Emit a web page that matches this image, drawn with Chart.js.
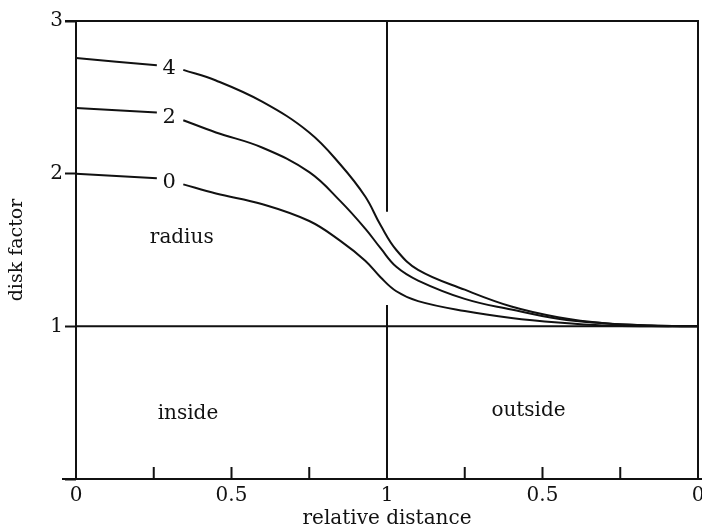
<!DOCTYPE html>
<html lang="en">
  <head>
    <meta charset="UTF-8" />
    <title>Disk factor</title>
    <script src="https://cdn.jsdelivr.net/npm/chart.js@4"></script>
    <style>
      html, body { margin: 0; padding: 0; background: #fff; }
      #wrap { width: 702px; height: 531px; }
    </style>
  </head>
  <body>
    <div id="wrap"><canvas id="diskChart"></canvas></div>
  </body>
  <script>
    // relative distance: 0..1 inside, 1..2 outside (axis reads 0 .. 1 .. 0)
    const distance = [0, 0.26, 0.30, 0.345, 0.45, 0.6, 0.75, 0.85, 0.93, 0.98, 1.03, 1.1, 1.25, 1.4, 1.55, 1.7, 1.85, 2.0];
    // null at 0.30 leaves room for the curve label
    const curve4 = [2.757, 2.71, null, 2.68, 2.61, 2.47, 2.27, 2.06, 1.85, 1.66, 1.50, 1.37, 1.24, 1.13, 1.06, 1.02, 1.005, 1.0];
    const curve2 = [2.43, 2.40, null, 2.35, 2.27, 2.17, 2.01, 1.82, 1.64, 1.51, 1.39, 1.30, 1.18, 1.11, 1.05, 1.02, 1.005, 1.0];
    const curve0 = [2.0, 1.97, null, 1.93, 1.87, 1.80, 1.69, 1.56, 1.43, 1.32, 1.23, 1.165, 1.10, 1.055, 1.025, 1.005, 1.0, 1.0];
    const curveLabels = ["4", "2", "0"];
    const dividerGap = [1.14, 1.75]; // the x=1 line is broken between these y values

    const INK = "#111";
    const FONT = "'DejaVu Serif', serif";

    function pts(ys) {
      return distance.map((x, i) => ({x: x, y: ys[i]}));
    }

    const frame = {
      id: "frame",
      afterDatasetsDraw(chart) {
        const {ctx, chartArea: a, scales: {x, y}} = chart;
        ctx.save();
        ctx.strokeStyle = INK;
        ctx.lineWidth = 2;
        ctx.beginPath();
        // box
        ctx.moveTo(a.left, a.bottom); ctx.lineTo(a.left, a.top);
        ctx.moveTo(a.left - 11, a.top); ctx.lineTo(a.right, a.top);
        ctx.lineTo(a.right, a.bottom);
        ctx.moveTo(a.left - 14, a.bottom); ctx.lineTo(chart.width, a.bottom);
        // y = 1 line
        ctx.moveTo(a.left, y.getPixelForValue(1)); ctx.lineTo(a.right, y.getPixelForValue(1));
        // x = 1 divider, broken where the curves pass
        const xm = x.getPixelForValue(1);
        ctx.moveTo(xm, a.top); ctx.lineTo(xm, y.getPixelForValue(dividerGap[1]));
        ctx.moveTo(xm, y.getPixelForValue(dividerGap[0])); ctx.lineTo(xm, a.bottom);
        // inward ticks on the x axis
        for (let v = 0.25; v < 2; v += 0.25) {
          if (v === 1) continue;
          const px = x.getPixelForValue(v);
          ctx.moveTo(px, a.bottom); ctx.lineTo(px, a.bottom - 12);
        }
        ctx.stroke();

        ctx.fillStyle = INK;
        ctx.font = "21px " + FONT;
        ctx.textAlign = "center";
        ctx.textBaseline = "middle";
        chart.data.datasets.forEach((ds, i) => {
          const gi = ds.data.findIndex(p => p.y === null);
          const yv = (ds.data[gi - 1].y + ds.data[gi + 1].y) / 2;
          ctx.fillText(curveLabels[i], x.getPixelForValue(ds.data[gi].x), y.getPixelForValue(yv) + 1);
        });
        ctx.font = "20px " + FONT;
        ctx.fillText("radius", x.getPixelForValue(0.34), y.getPixelForValue(1.58));
        ctx.fillText("inside", x.getPixelForValue(0.36), y.getPixelForValue(0.43));
        ctx.fillText("outside", x.getPixelForValue(1.455), y.getPixelForValue(0.45));
        ctx.restore();
      },
    };

    const lineStyle = {
      borderColor: INK,
      borderWidth: 2,
      pointRadius: 0,
      fill: false,
      tension: 0.4,
      spanGaps: false,
    };

    new Chart(document.getElementById("diskChart"), {
      type: "line",
      data: {
        datasets: [
          {label: "4", data: pts(curve4), ...lineStyle},
          {label: "2", data: pts(curve2), ...lineStyle},
          {label: "0", data: pts(curve0), ...lineStyle},
        ],
      },
      options: {
        responsive: true,
        maintainAspectRatio: false,
        animation: false,
        layout: {padding: {top: 21, right: 4, left: 0, bottom: 0}},
        plugins: {legend: {display: false}, tooltip: {enabled: false}},
        scales: {
          x: {
            type: "linear",
            min: 0,
            max: 2,
            border: {display: false},
            grid: {display: false, drawTicks: false},
            ticks: {
              stepSize: 0.25,
              autoSkip: false,
              maxRotation: 0,
              padding: 5,
              color: INK,
              font: {family: FONT, size: 20},
              callback: (v) => (v % 0.5 ? "" : String(v <= 1 ? v : 2 - v)),
            },
            title: {display: true, text: "relative distance", color: INK, font: {family: FONT, size: 20}, padding: {top: 0, bottom: 0}},
            afterFit: (s) => { s.height = 52; s.paddingLeft = 0; s.paddingRight = 0; },
          },
          y: {
            min: 0,
            max: 3,
            border: {display: false},
            grid: {drawOnChartArea: false, tickLength: 11, tickColor: INK, tickWidth: 2},
            ticks: {
              stepSize: 1,
              padding: 2,
              color: INK,
              font: {family: FONT, size: 20},
              callback: (v) => (v === 0 ? "" : String(v)),
            },
            title: {display: true, text: "disk factor", color: INK, font: {family: FONT, size: 19}, padding: {top: 6, bottom: 4}},
            afterFit: (s) => { s.width = 76; },
          },
        },
      },
      plugins: [frame],
    });
  </script>
</html>
